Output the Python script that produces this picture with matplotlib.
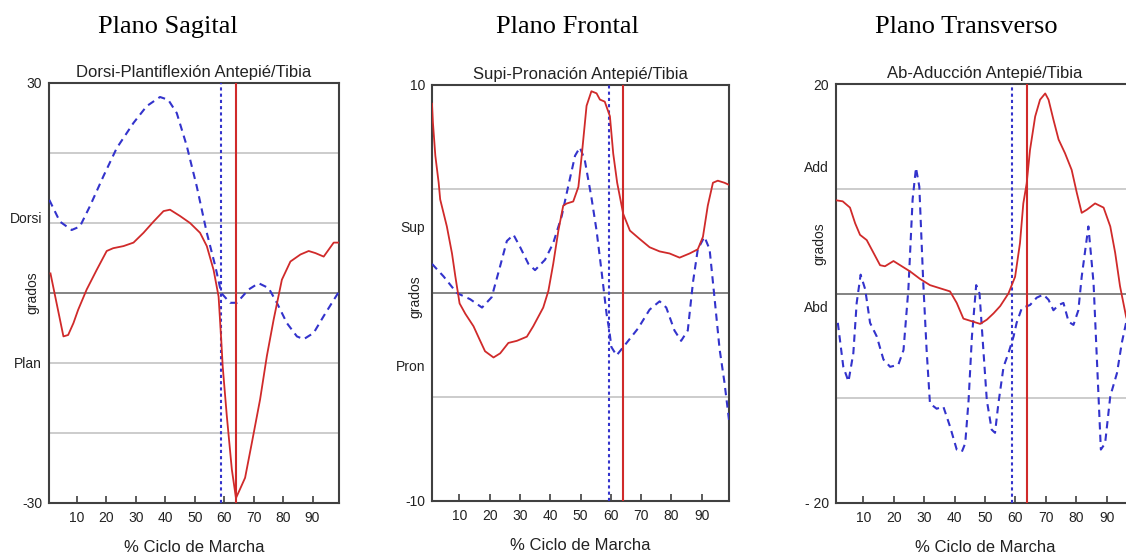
import matplotlib
matplotlib.use('Agg')
import matplotlib.pyplot as plt

plt.rcParams['font.family'] = ['Liberation Sans', 'DejaVu Sans']

# --- datos: plano sagital ---
sag_x_red = [1, 5.4, 7, 8.8, 10.4, 13.3, 16.7, 20.1, 22.3, 25.8, 29.2, 32.6, 36, 39.4,
             41.6, 45, 48.4, 51.8, 54.1, 56.4, 58.1, 59, 59.5, 60.9, 62.6, 64, 65.4,
             67.1, 69.4, 72.2, 74.5, 76.8, 79.6, 82.5, 85.9, 88.7, 91, 93.8, 95.5, 97.2, 99]
sag_y_red = [2.8, -6.2, -6.0, -4.3, -2.4, 0.5, 3.3, 6.0, 6.4, 6.7, 7.2, 8.6, 10.2, 11.7,
             11.9, 11, 10, 8.6, 6.7, 3.3, -0.5, -6.7, -10.5, -17.6, -25.2, -29.3, -28,
             -26.4, -21.4, -15.2, -9, -3.8, 1.9, 4.5, 5.5, 6, 5.7, 5.2, 6.2, 7.2, 7.2]
sag_x_blue = [0.6, 4.2, 8.2, 11, 14.4, 19, 23.5, 29.2, 33.7, 38.2, 41, 43.9, 47.3, 50.7,
              54.1, 57, 59, 62, 64.3, 68.3, 71.7, 75.1, 77.9, 81.3, 84.7, 87, 90.4,
              93.8, 97.2, 99]
sag_y_blue = [13.3, 10.2, 9, 9.5, 12.4, 16.7, 20.7, 24.3, 26.7, 28, 27.6, 25.7, 21, 15.2,
              8.6, 3.8, 0, -1.4, -1.4, 0.5, 1.4, 0.7, -1.4, -4.3, -6.2, -6.6, -5.7,
              -3.3, -1, 0.2]

# --- datos: plano frontal ---
fro_x_red = [1, 1.3, 2.1, 3.2, 3.7, 5.9, 7.6, 8.7, 10.1, 12, 14.7, 16.9, 18.5, 21.3,
             23.5, 26.2, 29, 32.3, 34.4, 37.7, 39.4, 41, 42.7, 44.3, 45.4, 47.6, 49.3,
             50.4, 52, 53.6, 55.3, 56.4, 58, 59.7, 60.8, 62.1, 64.1, 66.3, 69.5, 72.8,
             76.1, 79.4, 82.7, 86, 88.7, 90.4, 92, 93.7, 95.3, 97.5, 99]
fro_y_red = [9.1, 8.2, 6.6, 5.3, 4.5, 3.2, 1.9, 0.8, -0.5, -1, -1.6, -2.3, -2.8, -3.1,
             -2.9, -2.4, -2.3, -2.1, -1.6, -0.7, 0.1, 1.4, 3.0, 4.2, 4.3, 4.4, 5.1,
             6.6, 9.0, 9.7, 9.6, 9.3, 9.2, 8.5, 6.7, 5.3, 3.8, 3.0, 2.6, 2.2,
             2.0, 1.9, 1.7, 1.9, 2.1, 2.7, 4.2, 5.3, 5.4, 5.3, 5.2]
fro_x_blue = [1, 4.8, 9.2, 13.6, 17.5, 20.7, 23.5, 25.7, 27.9, 30.1, 32.8, 35, 38.3, 41,
              43.8, 45.9, 48.2, 49.8, 51.4, 53.6, 55.3, 56.9, 58.6, 59.5, 60.2, 61.9,
              65.2, 69, 72.8, 76.1, 78.3, 81, 83.2, 85.4, 87.1, 88.7, 90.9, 92.6, 94.2,
              95.9, 97.5, 99]
fro_y_blue = [1.4, 0.8, 0, -0.3, -0.7, -0.2, 1.3, 2.5, 2.8, 2.2, 1.4, 1.1, 1.6, 2.4,
              3.7, 5.1, 6.6, 7.0, 6.4, 4.6, 3.0, 1.1, -1.0, -1.8, -2.6, -3.0,
              -2.4, -1.7, -0.8, -0.4, -0.7, -1.8, -2.3, -1.8, 0.5, 2.1, 2.7, 2.1, -0.2,
              -2.7, -4.3, -6.1]

# --- datos: plano transverso ---
tra_x_red = [1, 3.2, 5.6, 7.3, 8.9, 11.1, 13.3, 15.5, 17.1, 19.9, 22.1, 25.4, 28.6, 31.9,
             35.2, 38.5, 40.7, 42.9, 45.1, 48.4, 50.6, 52.8, 55, 57.7, 59.9, 61.5, 62.6,
             63.7, 64.8, 66.5, 68.1, 69.8, 70.9, 72.5, 74.2, 76.3, 78.5, 80.2, 81.8,
             83.5, 86.2, 89, 91.2, 92.8, 94.4, 96.4, 99]
tra_y_red = [8.9, 8.8, 8.2, 6.7, 5.6, 5.1, 3.9, 2.7, 2.6, 3.1, 2.7, 2.1, 1.4, 0.8,
             0.5, 0.2, -0.9, -2.4, -2.6, -2.9, -2.5, -1.9, -1.2, 0.0, 1.6, 4.8, 8.6,
             10.5, 13.7, 16.9, 18.5, 19.1, 18.5, 16.6, 14.7, 13.4, 11.8, 9.6, 7.7,
             8.0, 8.6, 8.2, 6.4, 3.9, 0.7, -2.2, -4.5]
tra_x_blue = [1.6, 3.4, 5.1, 6.7, 7.8, 9.1, 10.6, 12.2, 14.4, 16.6, 18.8, 21.5, 23.2,
              24.8, 26.2, 27.3, 28.4, 29.7, 30.8, 31.9, 34.1, 36.3, 38.5, 40.7, 42.4,
              43.5, 44.6, 45.7, 47.1, 48.2, 49.3, 50.6, 52.2, 53.3, 54.4, 56.1, 57.7,
              59.4, 60.4, 62.1, 64.8, 67, 69.2, 70.9, 72.5, 74.2, 75.8, 77.5, 79.1,
              80.7, 81.8, 84, 85.7, 86.8, 88.1, 89.5, 91.2, 93.4, 95, 96.4, 99]
tra_y_blue = [-2.8, -7, -8.4, -5.7, -0.9, 1.8, 0.4, -2.8, -4.1, -6.3, -7, -6.8, -5.4,
              0.4, 9, 12, 10.2, 1, -5.4, -10.5, -11, -10.8, -12.7, -14.9, -15.1,
              -14.3, -10.2, -4.1, 0.8, 0, -4.7, -10.2, -13, -13.3, -10.5, -7, -5.7,
              -4.1, -2.8, -1.4, -1.1, -0.4, -0.1, -0.6, -1.6, -1.1, -0.9, -2.7, -3,
              -1.6, 1.6, 6.4, 1, -6.3, -14.9, -14.3, -9.8, -7.6, -4.7, -2.8, -1.5]

planos = ['Plano Sagital', 'Plano Frontal', 'Plano Transverso']
plano_x = [168, 567, 966]
titulos = ['Dorsi-Plantiflexión Antepié/Tibia', 'Supi-Pronación Antepié/Tibia',
           'Ab-Aducción Antepié/Tibia']
limites = [(-30, 30), (-10, 10), (-20, 20)]
xlims = [(0.5, 99), (1, 99), (1, 99)]
rejillas = [[20, 10, -10, -20], [5, -5], [10, -10]]
etiquetas_y = [([30, 10.8, -10, -30], ['30', 'Dorsi', 'Plan', '-30']),
               ([10, 3.2, -3.5, -10], ['10', 'Sup', 'Pron', '-10']),
               ([20, 12.1, -1.2, -20], ['20', 'Add', 'Abd', '- 20'])]
grados_y = [0.5, 0.49, 0.62]
linea_azul = [59, 59.4, 58.8]
linea_roja = [64, 64, 63.7]
xticks = [10, 20, 30, 40, 50, 60, 70, 80, 90]

curvas = [(sag_x_red, sag_y_red, sag_x_blue, sag_y_blue),
          (fro_x_red, fro_y_red, fro_x_blue, fro_y_blue),
          (tra_x_red, tra_y_red, tra_x_blue, tra_y_blue)]

# cajas de los ejes en pixeles (izq, der, arriba, abajo)
cajas = [(49, 339, 83, 503), (432, 729, 85, 501), (836, 1134, 84, 503)]

W, H = 1126, 559
fig = plt.figure(figsize=(W / 100, H / 100), dpi=100)

ROJO = '#d02a2a'
AZUL = '#3333cc'

for i in range(3):
    l, r, t, b = cajas[i]
    ax = fig.add_axes([l / W, 1 - b / H, (r - l) / W, (b - t) / H])
    xr, yr, xb, yb = curvas[i]

    for g in rejillas[i]:
        ax.axhline(g, color='#c4c4c4', lw=1.2, zorder=1)
    ax.axhline(0, color='#6e6e6e', lw=1.2, zorder=1)

    ax.plot(xb, yb, color=AZUL, lw=1.5, linestyle=(0, (3.5, 2.5)), zorder=3)
    ax.plot(xr, yr, color=ROJO, lw=1.3, zorder=4)
    ax.axvline(linea_azul[i], color=AZUL, lw=1.5, linestyle=(0, (1.5, 1.5)), zorder=3)
    ax.axvline(linea_roja[i], color=ROJO, lw=1.5, zorder=4)

    ax.set_xlim(*xlims[i])
    ax.set_ylim(*limites[i])
    ax.set_xticks(xticks)
    ax.set_xticklabels([str(v) for v in xticks])
    ax.set_yticks(etiquetas_y[i][0])
    ax.set_yticklabels(etiquetas_y[i][1])
    ax.tick_params(axis='x', direction='in', length=5, width=1.2, color='#404040',
                   labelsize=10, pad=6, labelcolor='#222222')
    ax.tick_params(axis='y', length=0, labelsize=10, pad=5, labelcolor='#222222')
    for s in ax.spines.values():
        s.set_color('#404040')
        s.set_linewidth(1.5)

    alto = b - t
    ax.text(0.5, 1 + 6 / alto, titulos[i], transform=ax.transAxes, ha='center',
            va='baseline', fontsize=12, color='#222222')
    ax.text(0.5, -44 / alto, '% Ciclo de Marcha', transform=ax.transAxes,
            ha='center', va='center', fontsize=12, color='#222222')
    ax.text(-17 / (r - l), grados_y[i], 'grados', transform=ax.transAxes,
            rotation=90, ha='center', va='center', fontsize=10, color='#222222')

    fig.text(plano_x[i] / W, 1 - 33 / H, planos[i], ha='center', va='baseline',
             fontsize=19, family=['Liberation Serif', 'DejaVu Serif'], color='black')

plt.savefig('out.png', dpi=100)
